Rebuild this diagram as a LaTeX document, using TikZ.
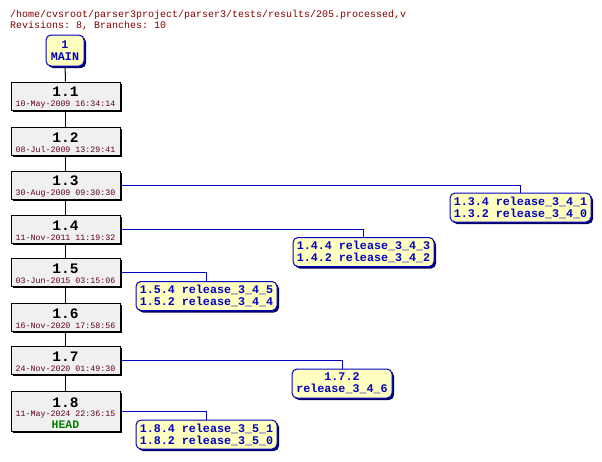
\documentclass[tikz,border=0pt]{standalone}
\usepackage{fontspec}
\setmonofont{Liberation Mono}
\usetikzlibrary{shadows}
\definecolor{titlered}{RGB}{128,0,0}
\definecolor{datered}{RGB}{96,0,32}
\definecolor{brblue}{RGB}{0,0,192}
\definecolor{brfill}{RGB}{255,255,192}
\definecolor{revfill}{RGB}{240,240,240}
\definecolor{headgreen}{RGB}{0,128,0}
\definecolor{brshadow}{RGB}{0,0,96}
\newcommand\revlbl[2]{{\rule{0pt}{13pt}\fontsize{14.5}{15}\selectfont\bfseries\textcolor{black}{#1}}\\#2}
\begin{document}
\begin{tikzpicture}[x=1pt,y=-1pt,
  rev/.style={draw=black, fill=revfill, line width=1pt, minimum width=109pt, minimum height=28pt,
    inner sep=0pt, align=center, font=\ttfamily\fontsize{8.3}{9.5}\selectfont, text=datered,
    drop shadow={shadow xshift=2pt, shadow yshift=-2pt, opacity=1, fill=black}},
  br/.style={draw=brblue, fill=brfill, line width=1pt, rounded corners=5pt, minimum width=141pt,
    minimum height=29pt, inner sep=0pt, align=center, font=\ttfamily\bfseries\fontsize{11.7}{12}\selectfont,
    text=brblue, drop shadow={shadow xshift=2pt, shadow yshift=-2pt, opacity=1, fill=brshadow}},
  trunk/.style={draw=black, line width=1pt},
  brline/.style={draw=brblue, line width=1pt},
  titletext/.style={anchor=base west, inner sep=0pt, font=\ttfamily\fontsize{10}{12}\selectfont, text=titlered}
]
\useasboundingbox (0,0) rectangle (602,461);
\node[titletext] (title) at (10,17) {/home/cvsroot/parser3project/parser3/tests/results/205.processed,v};
\node[titletext] (stats) at (10,28) {Revisions: 8, Branches: 10};

\node[br, minimum width=38pt, minimum height=31pt] (main) at (65,50.5) {1\\MAIN};

\node[rev] (r11) at (65.5,96) {\revlbl{1.1}{10-May-2009 16:34:14}};
\node[rev] (r12) at (65.5,141) {\revlbl{1.2}{08-Jul-2009 13:29:41}};
\node[rev] (r13) at (65.5,185) {\revlbl{1.3}{30-Aug-2009 09:30:30}};
\node[rev] (r14) at (65.5,229) {\revlbl{1.4}{11-Nov-2011 11:19:32}};
\node[rev] (r15) at (65.5,272) {\revlbl{1.5}{03-Jun-2015 03:15:06}};
\node[rev] (r16) at (65.5,317) {\revlbl{1.6}{16-Nov-2020 17:58:56}};
\node[rev] (r17) at (65.5,360) {\revlbl{1.7}{24-Nov-2020 01:49:30}};
\node[rev, minimum height=40pt] (r18) at (65.5,411) {\revlbl{1.8}{11-May-2024 22:36:15}\\[2pt]{\fontsize{11.5}{12}\selectfont\bfseries\textcolor{headgreen}{HEAD}}};

\node[br] (b13) at (520.5,207.5) {1.3.4 release\_3\_4\_1\\1.3.2 release\_3\_4\_0};
\node[br] (b14) at (363.5,252) {1.4.4 release\_3\_4\_3\\1.4.2 release\_3\_4\_2};
\node[br] (b15) at (206.5,296) {1.5.4 release\_3\_4\_5\\1.5.2 release\_3\_4\_4};
\node[br, minimum width=100pt] (b17) at (342,383.5) {1.7.2\\release\_3\_4\_6};
\node[br] (b18) at (206.5,434.5) {1.8.4 release\_3\_5\_1\\1.8.2 release\_3\_5\_0};

\draw[trunk] (main) -- (r11);
\draw[trunk] (r11) -- (r12);
\draw[trunk] (r12) -- (r13);
\draw[trunk] (r13) -- (r14);
\draw[trunk] (r14) -- (r15);
\draw[trunk] (r15) -- (r16);
\draw[trunk] (r16) -- (r17);
\draw[trunk] (r17) -- (r18);

\draw[brline] (r13.east) -| (b13.north);
\draw[brline] (r14.east) -| (b14.north);
\draw[brline] (r15.east) -| (b15.north);
\draw[brline] (r17.east) -| (b17.north);
\draw[brline] (r18.east) -| (b18.north);
\end{tikzpicture}
\end{document}
